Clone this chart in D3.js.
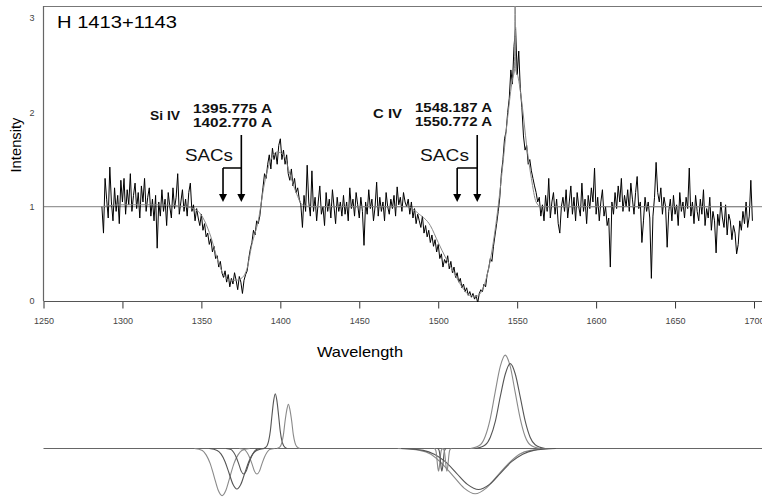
<!DOCTYPE html>
<html>
<head>
<meta charset="utf-8">
<script src="https://cdn.jsdelivr.net/npm/d3@7"></script>
<style>
  body { margin: 0; background: #fff; }
  svg { display: block; font-family: "Liberation Sans", Arial, sans-serif; }
</style>
</head>
<body>
<div id="chart"></div>
<script>
// spectrum of H 1413+1143, sampled every 1 A from 1287 A
const specStart = 1287, specStep = 1;
const specIntensity = [
  1.00,0.72,1.30,1.08,0.88,1.42,1.05,0.85,1.20,0.95,1.12,0.82,1.28,
  1.05,1.30,0.92,1.18,1.02,1.35,0.95,1.12,1.25,0.98,1.15,0.88,1.22,1.05,1.30,0.95,1.10,1.20,0.90,1.08,
  0.85,1.12,0.56,1.05,0.90,1.18,0.95,1.08,0.80,1.15,1.00,0.88,1.20,0.98,1.10,1.35,0.92,1.05,1.18,0.95,
  1.08,0.90,1.15,1.25,0.95,1.02,0.85,0.98,0.88,0.80,0.92,0.75,0.82,0.68,0.72,0.60,0.66,0.52,0.58,0.45,
  0.48,0.36,0.42,0.30,0.25,0.32,0.20,0.28,0.15,0.24,0.18,0.30,0.22,0.12,0.26,0.20,0.08,0.22,0.28,0.32,
  0.45,0.55,0.62,0.75,0.70,0.85,0.82,0.90,1.05,1.20,1.35,1.30,1.45,1.55,1.40,1.62,1.50,1.58,1.45,1.65,
  1.72,1.50,1.60,1.45,1.55,1.35,1.28,1.40,1.22,1.30,1.15,1.20,1.08,1.02,0.78,1.12,0.95,1.44,1.05,0.90,
  1.38,0.95,1.10,0.85,1.05,1.22,0.92,1.00,0.80,1.15,0.95,1.08,0.88,1.18,1.00,0.82,1.10,0.95,1.05,0.90,
  1.12,0.92,1.05,0.85,1.20,0.98,1.08,0.90,1.15,1.02,0.88,1.10,0.95,0.59,1.05,0.92,1.18,0.98,1.08,0.85,
  1.00,1.26,0.90,1.10,0.95,1.05,0.85,1.15,1.00,0.92,1.08,0.98,1.12,0.90,1.21,1.02,1.10,0.95,1.15,1.05,
  1.00,1.08,0.92,1.05,0.88,0.98,0.82,0.92,0.85,0.78,0.90,0.72,0.80,0.68,0.75,0.62,0.70,0.58,0.65,0.52,
  0.60,0.45,0.50,0.36,0.44,0.40,0.48,0.34,0.42,0.30,0.36,0.25,0.30,0.20,0.24,0.14,0.18,0.10,0.14,0.06,
  0.10,0.04,0.08,0.02,0.06,-0.02,0.08,0.12,0.10,0.18,0.15,0.28,0.35,0.45,0.42,0.58,0.70,0.82,0.95,1.10,
  1.35,1.50,1.72,1.80,2.00,2.15,2.45,2.30,2.70,2.90,2.40,2.65,2.25,2.05,1.75,1.60,1.65,1.45,1.50,1.38,
  1.30,1.22,1.15,1.05,1.10,0.90,1.02,0.85,1.12,0.95,1.30,0.88,1.05,1.15,0.92,1.08,0.82,0.72,1.00,1.10,
  0.95,1.18,0.88,1.05,1.22,0.92,1.10,0.85,1.15,1.00,0.90,1.25,0.95,1.08,0.82,1.12,0.98,1.20,1.05,1.41,
  0.92,1.10,0.85,1.05,1.18,0.90,1.00,0.80,0.88,0.36,1.05,0.92,1.15,0.98,1.22,1.05,1.30,0.95,1.12,1.00,
  1.18,0.95,1.25,1.08,0.92,1.15,1.32,0.98,1.05,0.62,0.85,1.10,0.95,1.05,0.88,0.24,0.90,1.10,1.47,1.15,
  1.05,1.20,0.92,1.10,1.00,0.57,0.95,1.08,0.85,1.12,0.92,1.02,0.80,1.15,0.95,1.05,0.88,1.10,0.98,1.41,
  0.90,1.05,0.82,1.12,0.95,0.85,1.08,0.92,1.18,0.80,0.98,0.88,1.10,0.75,0.95,0.85,0.51,0.92,0.80,1.05,
  0.88,0.78,1.02,0.70,0.92,0.85,0.65,0.80,0.72,0.50,0.60,0.85,0.75,0.95,0.82,1.05,0.78,0.90,1.28,0.85
];

// smooth fit (wavelength, intensity)
const fitCurve = [[1287,1.0],[1300,1.02],[1320,1.02],[1340,1.0],[1348,0.95],[1352,0.85],[1356,0.68],[1360,0.45],[1364,0.28],[1368,0.22],[1372,0.22],[1376,0.25],[1379,0.35],[1382,0.6],[1386,0.85],[1390,1.25],[1394,1.5],[1398,1.58],[1402,1.55],[1406,1.35],[1410,1.15],[1414,1.02],[1420,1.0],[1480,1.0],[1488,0.92],[1495,0.8],[1500,0.62],[1505,0.45],[1510,0.3],[1515,0.15],[1520,0.06],[1524,0.05],[1528,0.12],[1532,0.35],[1536,0.75],[1540,1.3],[1544,1.95],[1547,2.35],[1548.3,2.45],[1548.7,3.3],[1549.1,2.45],[1550.5,2.38],[1553,2.1],[1556,1.65],[1559,1.3],[1562,1.05],[1565,1.0],[1699,1.0]];

const xTicks = [1250, 1300, 1350, 1400, 1450, 1500, 1550, 1600, 1650, 1700];
const yTicks = [0, 1, 2, 3];

// line labels and SAC arrow positions (A)
const lineGroups = [
  { ion: "Si IV", lines: ["1395.775 A", "1402.770 A"], sacs: [1363.7, 1375.3] },
  { ion: "C IV", lines: ["1548.187 A", "1550.772 A"], sacs: [1512.0, 1524.7] }
];

// fitted components shown below the spectrum (wavelength, relative intensity)
const components = [
  { tone: "dark", pts: [[1389.5,0],[1391.6,0.03],[1392.6,0.08],[1393.7,0.19],[1394.7,0.35],[1395.8,0.51],[1396.8,0.58],[1397.8,0.51],[1398.9,0.35],[1399.9,0.19],[1401.0,0.08],[1402.1,0.03],[1404.1,0]] },
  { tone: "light", pts: [[1397.8,0],[1399.9,0.02],[1400.9,0.06],[1402.0,0.15],[1403.0,0.29],[1404.1,0.41],[1405.1,0.47],[1406.1,0.41],[1407.2,0.29],[1408.2,0.15],[1409.3,0.06],[1410.4,0.02],[1412.4,0]] },
  { tone: "light", pts: [[1345.6,0],[1350.6,-0.02],[1353.1,-0.07],[1355.6,-0.16],[1358.1,-0.30],[1360.6,-0.44],[1363.1,-0.50],[1365.6,-0.44],[1368.1,-0.30],[1370.6,-0.16],[1373.1,-0.07],[1375.6,-0.02],[1380.6,0]] },
  { tone: "dark", pts: [[1355,0],[1360,-0.02],[1362.5,-0.06],[1365,-0.14],[1367.5,-0.26],[1370,-0.38],[1372.5,-0.43],[1375,-0.38],[1377.5,-0.26],[1380,-0.14],[1382.5,-0.06],[1385,-0.02],[1390,0]] },
  { tone: "light", pts: [[1374,0],[1377.2,-0.01],[1378.8,-0.04],[1380.4,-0.09],[1382,-0.16],[1383.6,-0.24],[1385.2,-0.27],[1386.8,-0.24],[1388.4,-0.16],[1390,-0.09],[1391.6,-0.04],[1393.2,-0.01],[1396.4,0]] },
  { tone: "dark", pts: [[1365.6,0],[1368.8,-0.01],[1370.4,-0.04],[1372,-0.09],[1373.6,-0.16],[1375.2,-0.24],[1376.8,-0.27],[1378.4,-0.24],[1380,-0.16],[1381.6,-0.09],[1383.2,-0.04],[1384.8,-0.01],[1388,0]] },
  { tone: "light", pts: [[1520.4,0],[1526.7,0.04],[1529.8,0.13],[1533,0.32],[1536.1,0.60],[1539.3,0.87],[1542.4,0.99],[1545.6,0.87],[1548.7,0.60],[1551.9,0.32],[1555,0.13],[1558.2,0.04],[1564.5,0]] },
  { tone: "dark", pts: [[1523.6,0],[1529.9,0.04],[1533,0.12],[1536.2,0.29],[1539.3,0.55],[1542.5,0.79],[1545.6,0.90],[1548.8,0.79],[1551.9,0.55],[1555.1,0.29],[1558.2,0.12],[1561.4,0.04],[1567.7,0]] },
  { tone: "light", pts: [[1474.4,0],[1488.4,-0.02],[1495.4,-0.06],[1502.4,-0.16],[1509.4,-0.29],[1516.4,-0.42],[1523.4,-0.48],[1530.4,-0.42],[1537.4,-0.29],[1544.4,-0.16],[1551.4,-0.06],[1558.4,-0.02],[1572.4,0]] },
  { tone: "dark", pts: [[1476.5,0],[1490.5,-0.02],[1497.5,-0.06],[1504.5,-0.14],[1511.5,-0.26],[1518.5,-0.38],[1525.5,-0.435],[1532.5,-0.38],[1539.5,-0.26],[1546.5,-0.14],[1553.5,-0.06],[1560.5,-0.02],[1574.5,0]] },
  { tone: "light", pts: [[1497.4,0],[1498.2,-0.01],[1498.6,-0.03],[1499,-0.08],[1499.4,-0.15],[1499.8,-0.21],[1500.2,-0.24],[1500.6,-0.21],[1501,-0.15],[1501.4,-0.08],[1501.8,-0.03],[1502.2,-0.01],[1503,0]] },
  { tone: "dark", pts: [[1499.5,0],[1500.3,-0.01],[1500.7,-0.03],[1501.1,-0.08],[1501.5,-0.15],[1501.9,-0.21],[1502.3,-0.24],[1502.7,-0.21],[1503.1,-0.15],[1503.5,-0.08],[1503.9,-0.03],[1504.3,-0.01],[1505.1,0]] },
  { tone: "light", pts: [[1502.7,0],[1503.5,-0.01],[1503.9,-0.03],[1504.3,-0.08],[1504.7,-0.15],[1505.1,-0.21],[1505.5,-0.24],[1505.9,-0.21],[1506.3,-0.15],[1506.7,-0.08],[1507.1,-0.03],[1507.5,-0.01],[1508.3,0]] }
];

const width = 762, height = 497;

const svg = d3.select('#chart')
  .append('svg')
  .attr('width', width)
  .attr('height', height);

const x = d3.scaleLinear().domain([1250, 1700]).range([43.5, 754]);
const y = d3.scaleLinear().domain([0, 3.128]).range([301, 6]);
// lower panel uses same intensity units around its own baseline
const yLow = d3.scaleLinear().domain([0, 1]).range([448.5, 354.2]);

svg.append('clipPath').attr('id', 'plotClip')
  .append('rect').attr('x', 43.5).attr('y', 6).attr('width', 720).attr('height', 296);

// frame: top border, reference line at 1
svg.append('line').attr('x1', 43.5).attr('x2', 762).attr('y1', 6.5).attr('y2', 6.5)
  .attr('stroke', '#777').attr('stroke-width', 1.2);
svg.append('line').attr('x1', 43.5).attr('x2', 762).attr('y1', y(1)).attr('y2', y(1))
  .attr('stroke', '#999').attr('stroke-width', 1.2);

// x axis
const xAxis = svg.append('g')
  .attr('transform', `translate(0, 301.5)`)
  .call(d3.axisBottom(x).tickValues(xTicks).tickSize(7).tickFormat(d3.format('d')));
xAxis.select('.domain').remove();
xAxis.append('line').attr('x1', 43.5).attr('x2', 762).attr('stroke', '#555').attr('stroke-width', 1.2);
xAxis.selectAll('.tick line').attr('stroke', '#333');
xAxis.selectAll('.tick text').attr('fill', '#444').attr('font-size', 9).attr('dy', '1.35em')
  .attr('font-family', '"Liberation Sans", Arial, sans-serif');

// y axis
const yAxis = svg.append('g')
  .attr('transform', `translate(43.5, 0)`)
  .call(d3.axisLeft(y).tickValues(yTicks).tickSize(0).tickPadding(9).tickFormat(d3.format('d')));
yAxis.select('.domain').attr('stroke', '#666').attr('stroke-width', 1.2).attr('d', 'M0,6V301');
yAxis.selectAll('.tick text').attr('fill', '#444').attr('font-size', 9)
  .attr('font-family', '"Liberation Sans", Arial, sans-serif');

// spectrum
const spec = specIntensity.map((v, i) => [specStart + i * specStep, v]);
const plot = svg.append('g').attr('clip-path', 'url(#plotClip)');

plot.append('path')
  .datum(spec)
  .attr('fill', 'none')
  .attr('stroke', '#000')
  .attr('stroke-width', 1)
  .attr('d', d3.line().x(d => x(d[0])).y(d => y(d[1])));

plot.append('path')
  .datum(fitCurve)
  .attr('fill', 'none')
  .attr('stroke', '#888')
  .attr('stroke-width', 1)
  .attr('d', d3.line().curve(d3.curveMonotoneX).x(d => x(d[0])).y(d => y(d[1])));

// titles
svg.append('text').attr('x', 57).attr('y', 28).attr('font-size', 16)
  .attr('textLength', 120).attr('lengthAdjust', 'spacingAndGlyphs').text('H 1413+1143');

svg.append('text').attr('x', 317).attr('y', 357).attr('font-size', 15)
  .attr('textLength', 86).attr('lengthAdjust', 'spacingAndGlyphs').text('Wavelength');

svg.append('text').attr('transform', 'translate(21, 145) rotate(-90)')
  .attr('text-anchor', 'middle').attr('font-size', 14)
  .attr('textLength', 55).attr('lengthAdjust', 'spacingAndGlyphs').text('Intensity');

// line annotations
const labelPos = [
  { ionX: 150, ionY: 120, ionW: 30, lineX: 193, lineW: 79, sacX: 185, sacW: 48 },
  { ionX: 373, ionY: 118, ionW: 29, lineX: 415, lineW: 77, sacX: 420, sacW: 49 }
];

lineGroups.forEach((g, i) => {
  const p = labelPos[i];
  const grp = svg.append('g').attr('font-weight', 'bold').attr('font-size', 13).attr('fill', '#111');
  grp.append('text').attr('x', p.ionX).attr('y', p.ionY)
    .attr('textLength', p.ionW).attr('lengthAdjust', 'spacingAndGlyphs').text(g.ion);
  g.lines.forEach((t, j) => {
    grp.append('text').attr('x', p.lineX).attr('y', 113 + j * 14 - (i ? 1 : 0))
      .attr('textLength', p.lineW).attr('lengthAdjust', 'spacingAndGlyphs').text(t);
  });

  svg.append('text').attr('x', p.sacX).attr('y', 161).attr('font-size', 17).attr('fill', '#111')
    .attr('textLength', p.sacW).attr('lengthAdjust', 'spacingAndGlyphs').text('SACs');

  const a = x(g.sacs[0]), b = x(g.sacs[1]);
  const arrow = svg.append('g').attr('stroke', '#000').attr('stroke-width', 1.6).attr('fill', 'none');
  arrow.append('path').attr('d', `M${b},135 V168 M${a},168 H${b} M${a},168 V196 M${b},168 V196`);
  [a, b].forEach(px => {
    svg.append('path').attr('d', `M${px - 4},194 L${px + 4},194 L${px},202 Z`).attr('fill', '#000');
  });
});

// lower panel: baseline and components
svg.append('line').attr('x1', 43.5).attr('x2', 762).attr('y1', yLow(0)).attr('y2', yLow(0))
  .attr('stroke', '#666').attr('stroke-width', 1.2);

const compLine = d3.line().curve(d3.curveMonotoneX).x(d => x(d[0])).y(d => yLow(d[1]));
svg.append('g').selectAll('path')
  .data(components)
  .join('path')
  .attr('fill', 'none')
  .attr('stroke', d => d.tone === 'dark' ? '#555' : '#8a8a8a')
  .attr('stroke-width', 1.1)
  .attr('d', d => compLine(d.pts));
</script>
</body>
</html>
